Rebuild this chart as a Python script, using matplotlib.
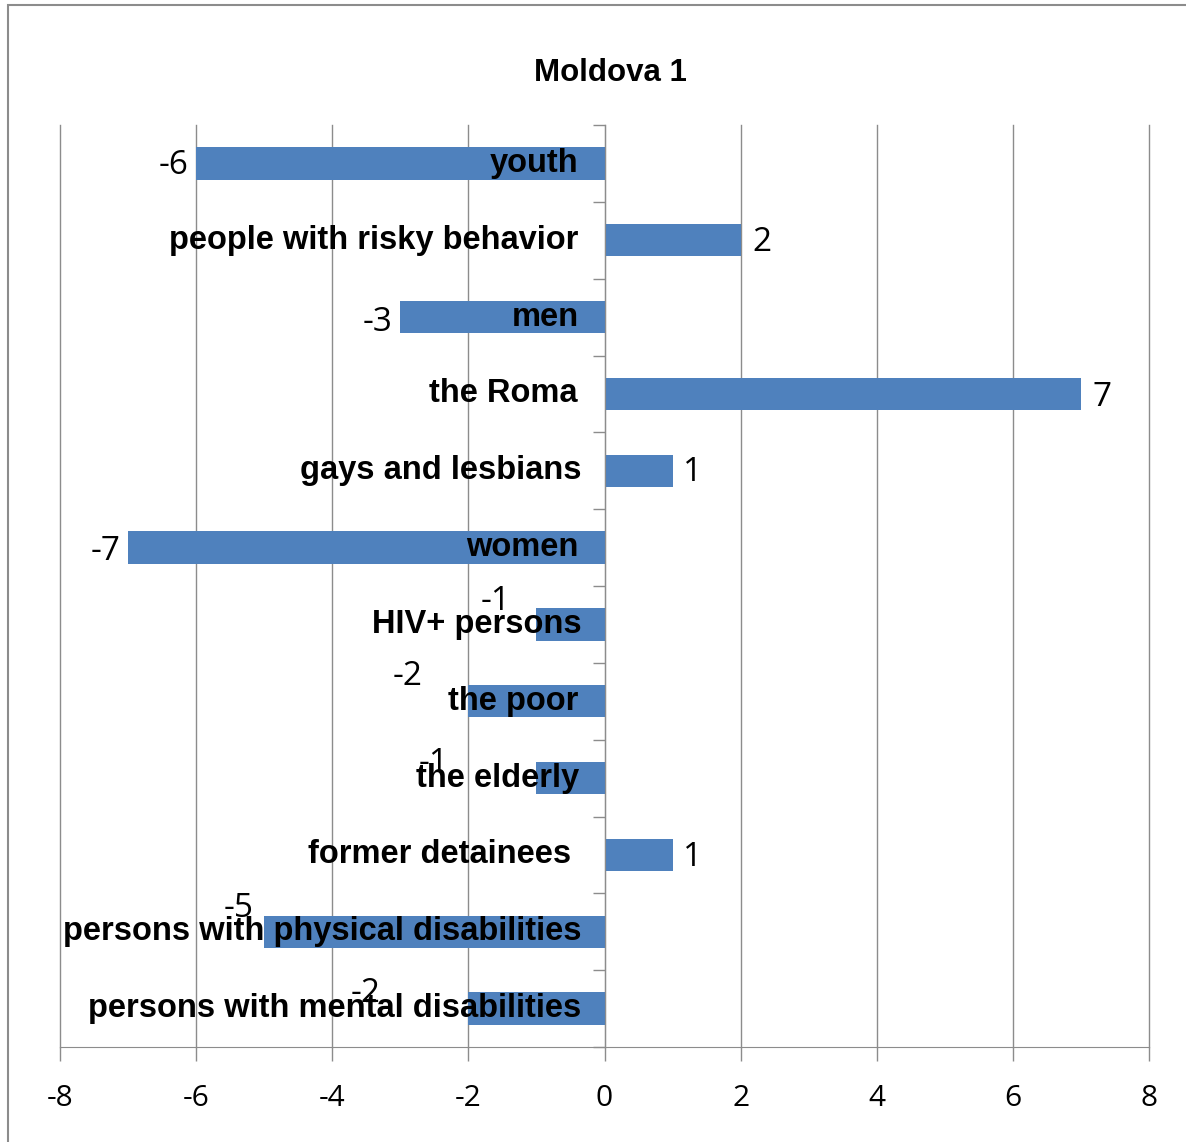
import matplotlib
matplotlib.use("Agg")
import matplotlib.pyplot as plt
import numpy as np
from matplotlib.patches import Rectangle
from matplotlib.ticker import FixedLocator

categories = ["youth", "people with risky behavior", "men", "the Roma",
              "gays and lesbians", "women", "HIV+ persons", "the poor",
              "the elderly", "former detainees",
              "persons with physical disabilities",
              "persons with mental disabilities"]
values = [-6, 2, -3, 7, 1, -7, -1, -2, -1, 1, -5, -2]
xticks = [-8, -6, -4, -2, 0, 2, 4, 6, 8]
title = "Moldova 1"

# value-label placement: (dx px, dy px upward, horizontal alignment)
label_place = [(-8, -2, "right"), (12, -2, "left"), (-8, -5, "right"),
               (12, -4, "left"), (10, -2, "left"), (-8, -4, "right"),
               (-41, 23, "center"), (-61, 25, "center"), (-103, 15, "center"),
               (10, -3, "left"), (-26, 23, "center"), (-103, 15, "center")]
# category-label right-edge gap from the zero axis (px)
name_gap = [26, 26, 26, 27, 23, 26, 23, 26, 25, 33, 23, 23]

W, H = 1186, 1142
fig = plt.figure(figsize=(W / 100, H / 100), dpi=100)
fig.patch.set_facecolor("white")

# outer border
fig.add_artist(Rectangle((8 / W, -0.1), 1.2, 1 - 5 / H + 0.1, transform=fig.transFigure,
                         fill=False, edgecolor="#8c8c8c", linewidth=1.5))

ax = fig.add_axes([60 / W, (H - 1047) / H, (1149 - 60) / W, (1047 - 125) / H])
y = np.arange(len(categories))
ax.barh(y, values, height=0.42, color="#4F81BD", zorder=2)
ax.set_xlim(-8, 8)
ax.set_ylim(len(categories) - 0.5, -0.5)

ax.set_xticks(xticks)
ax.set_xticklabels([str(t) for t in xticks], fontsize=21.5, family=["Open Sans", "DejaVu Sans"])
ax.tick_params(axis="x", length=10, width=1, color="#8c8c8c", pad=17)
ax.grid(axis="x", color="#8c8c8c", linewidth=1, zorder=0)
for gl in ax.get_xgridlines():
    gl.set_clip_on(False)

for s in ["top", "right"]:
    ax.spines[s].set_visible(False)
ax.spines["left"].set_position(("data", 0))
ax.spines["left"].set_color("#8c8c8c")
ax.spines["bottom"].set_color("#8c8c8c")
ax.spines["left"].set_zorder(3)

ax.yaxis.set_major_locator(FixedLocator(np.arange(-0.5, len(categories) + 0.5, 1)))
ax.yaxis.set_major_formatter(plt.NullFormatter())
ax.tick_params(axis="y", which="major", length=9, width=1, color="#8c8c8c")

for i, name in enumerate(categories):
    ax.annotate(name, xy=(0, i), xytext=(-name_gap[i] * 0.72, 0), textcoords="offset points",
                ha="right", va="center", fontsize=23.5, fontweight="bold",
                family=["Liberation Sans", "DejaVu Sans"], zorder=5)

for i, v in enumerate(values):
    dx, dy, ha = label_place[i]
    ax.annotate(str(v), xy=(v, i), xytext=(dx * 0.72, dy * 0.72),
                textcoords="offset points", ha=ha, va="center", fontsize=24,
                family=["Open Sans", "DejaVu Sans"], zorder=4)

fig.text(610 / W, 1 - 73 / H, title, ha="center", va="center", fontsize=22.5,
         fontweight="bold", family=["Liberation Sans", "DejaVu Sans"])

fig.savefig("out.png", dpi=100, facecolor="white")
